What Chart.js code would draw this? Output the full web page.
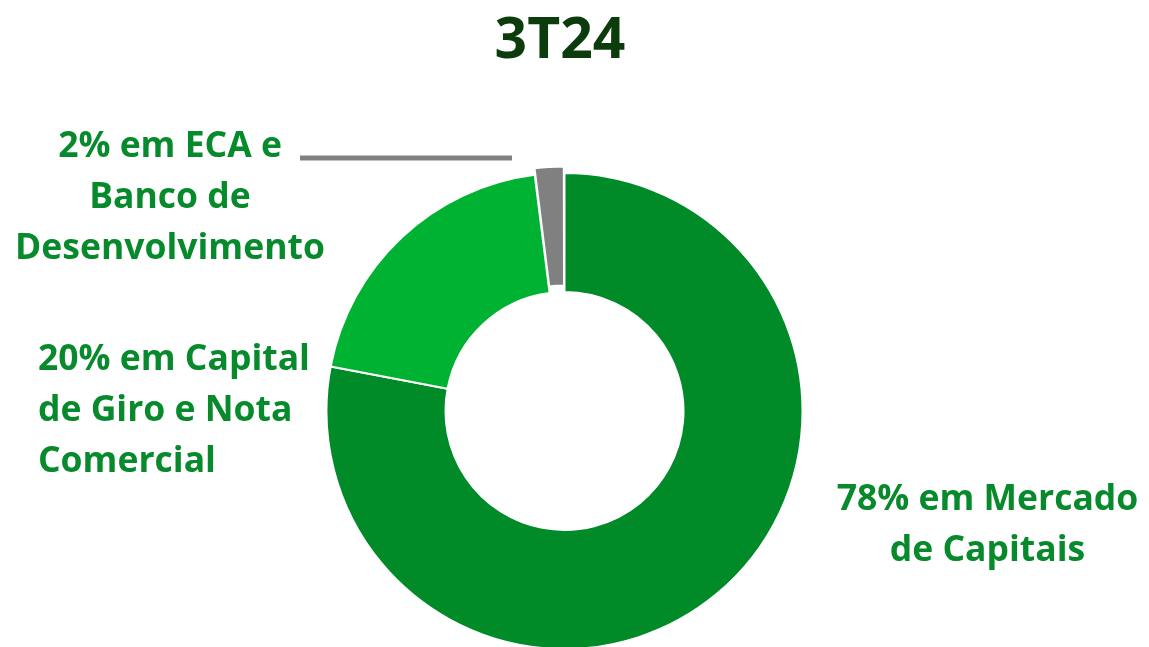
<!DOCTYPE html>
<html>
<head>
<meta charset="utf-8">
<script src="https://cdn.jsdelivr.net/npm/chart.js@4"></script>
<style>
  html, body { margin: 0; padding: 0; background: #fff; }
  #wrap { position: relative; width: 1149px; height: 647px; overflow: hidden; font-family: "Open Sans", Lato, sans-serif; }
  #chart { position: absolute; left: 0; top: 0; }
  .lbl { position: absolute; font-weight: bold; color: #078a2b; font-size: 35.5px; line-height: 51px; white-space: nowrap; }
  #title { position: absolute; left: 0; width: 1120px; top: -3px; text-align: center; font-weight: 700; font-size: 57px; color: #0c3b0c; }
</style>
</head>
<body>
<div id="wrap">
  <div id="title"></div>
  <canvas id="chart" width="1149" height="647"></canvas>
  <div class="lbl" id="lbl0" style="left:830px; top:471px; text-align:center; width:315px;"></div>
  <div class="lbl" id="lbl1" style="left:38px; top:331px; text-align:left;"></div>
  <div class="lbl" id="lbl2" style="left:10px; top:118px; text-align:center; width:320px;"></div>
</div>
<script>
// Datos del gráfico
const titulo = "3T24";
const categorias = ["Mercado de Capitais", "Capital de Giro e Nota Comercial", "ECA e Banco de Desenvolvimento"];
const valores = [78, 20, 2];
const colores = ["#008a28", "#00b232", "#808080"];
const etiquetas = [
  ["78% em Mercado", "de Capitais"],
  ["20% em Capital", "de Giro e Nota", "Comercial"],
  ["2% em ECA e", "Banco de", "Desenvolvimento"]
];

document.getElementById("title").textContent = titulo;
etiquetas.forEach((lineas, i) => {
  document.getElementById("lbl" + i).innerHTML = lineas.join("<br>");
});

// Línea guía de la etiqueta del 2%
const leaderLine = {
  id: "leaderLine",
  afterDatasetsDraw(chart) {
    const ctx = chart.ctx;
    ctx.save();
    ctx.strokeStyle = "#808080";
    ctx.lineWidth = 5;
    ctx.beginPath();
    ctx.moveTo(300, 158);
    ctx.lineTo(512, 158);
    ctx.stroke();
    ctx.restore();
  }
};

const ctx = document.getElementById("chart").getContext("2d");
new Chart(ctx, {
  type: "doughnut",
  data: {
    labels: categorias,
    datasets: [{
      data: valores,
      backgroundColor: colores,
      borderColor: "#ffffff",
      borderWidth: 2,
      offset: [0, 0, 14],
      clip: false
    }]
  },
  options: {
    responsive: false,
    animation: false,
    radius: 238,
    cutout: "50%",
    layout: { padding: { top: 175, bottom: 0, left: 0, right: 20 } },
    plugins: {
      legend: { display: false },
      tooltip: { enabled: false }
    }
  },
  plugins: [leaderLine]
});
</script>
</body>
</html>
